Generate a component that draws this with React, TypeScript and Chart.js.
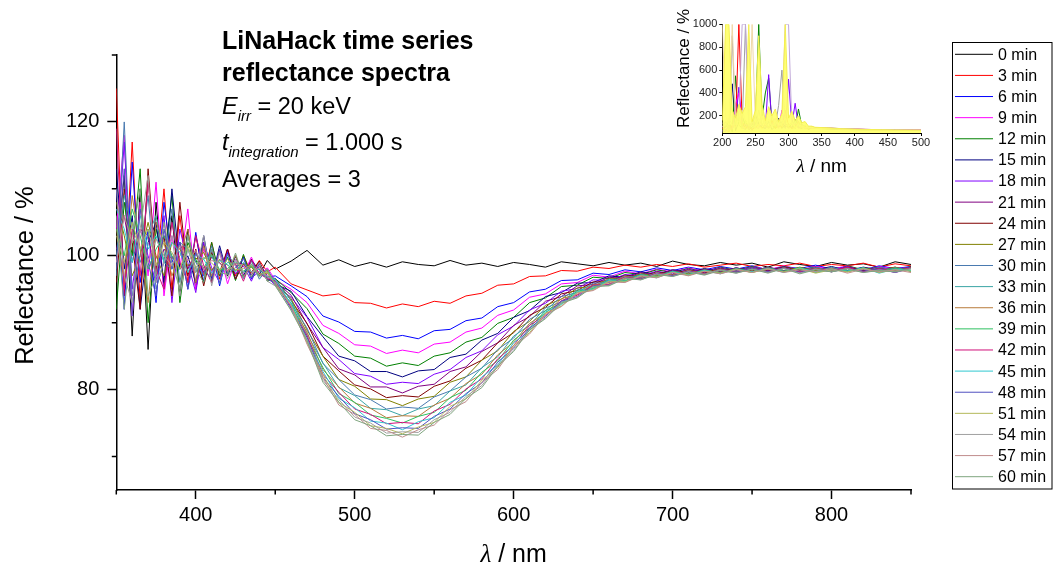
import React, { useEffect, useRef } from 'react';
import { Chart, registerables } from 'chart.js';
Chart.register(...registerables);

const FONT = '"Liberation Sans", Arial, Helvetica, sans-serif';
const SERIF = '"Liberation Serif", "Times New Roman", serif';

// ---------- main plot data ----------
const wavelengths = [350,355,360,365,370,375,380,385,390,395,400,405,410,415,420,425,430,435,440,445,450,
  460,470,480,490,500,510,520,530,540,550,560,570,580,590,600,610,620,630,640,650,
  660,670,680,690,700,710,720,730,740,750,760,770,780,790,800,810,820,830,840,850];

const timeLabels = ['0 min','3 min','6 min','9 min','12 min','15 min','18 min','21 min','24 min','27 min','30 min',
  '33 min','36 min','39 min','42 min','45 min','48 min','51 min','54 min','57 min','60 min'];

const seriesColors = ['#000000','#ff0000','#0000ff','#ff00ff','#008000','#000080','#8000ff','#800080','#800000',
  '#808000','#4a7ab0','#3aa5a5','#b87a3a','#2ec060','#d0107a','#30c8d0','#5050c0','#b4b85a','#a0a0a0','#c08c8c','#7fa57f'];

const r00 = [100,112,88,110,86,108,95,106,94,104,95,102,96,101,97,100,96.8,99.5,97.2,99.3,98.0,
  99.2,100.8,98.6,99.4,98.4,99.0,98.3,99.1,98.7,98.5,99.3,98.6,98.9,98.4,99.0,98.7,98.3,99.1,98.8,98.5,
  99.0,98.6,98.9,98.4,99.2,98.7,98.5,99.0,98.6,98.9,98.3,99.1,98.7,98.4,99.0,98.6,98.8,98.3,99.1,98.7];
const r03 = [125,94,117,93,112,97,110,95,106,96,103,97,102,96.5,101,97,100,97.5,99.3,97.6,98.3,
  95.8,94.9,94.0,94.3,93.0,92.9,92.2,92.8,92.4,93.2,92.9,94.0,94.4,95.6,95.8,96.9,97.0,97.8,97.7,98.3,
  98.1,98.6,98.3,98.7,98.4,98.8,98.3,98.6,98.9,98.4,98.7,98.5,98.9,98.4,98.7,98.5,98.9,98.3,98.8,98.5];
const r06 = [110,92,114,96,104,93,108,99,102,95,103.5,96,101,95.5,100.5,96.5,99.8,96.5,99.0,96.8,97.0,
  95.5,93.9,91.0,90.1,88.7,88.6,87.7,88.1,87.6,88.8,89.0,90.3,90.7,92.4,93.0,94.6,95.0,96.3,96.4,97.4,
  97.2,97.9,97.6,98.2,97.8,98.3,97.9,98.4,98.0,98.5,97.9,98.4,98.1,98.6,98.0,98.3,97.9,98.5,98.1,98.4];
const r09 = [104,118,91,108,97,111,94,103,98,107,95,101,97.5,100.5,95.8,99.5,97.2,99.8,97.0,98.2,96.4,
  95.0,93.0,89.6,88.4,86.7,86.5,85.4,85.9,85.5,86.8,87.1,88.6,89.2,91.1,91.9,93.8,94.3,95.8,96.0,97.1,
  96.8,97.7,97.3,98.0,97.6,98.2,97.7,98.3,97.8,98.4,97.9,98.5,97.9,98.4,98.0,98.5,97.8,98.4,98.0,98.3];
const r12 = [92,108,100,113,90,104,99,109,93,102,99.5,96,102,97,99.8,96.3,100.2,96.8,98.8,96.2,96.6,
  94.5,92.1,88.3,86.9,85.0,84.7,83.5,84.0,83.6,85.0,85.5,87.1,87.8,89.9,90.8,93.0,93.7,95.4,95.6,96.8,
  96.6,97.5,97.2,97.9,97.5,98.1,97.6,98.3,97.8,98.4,97.8,98.4,97.9,98.3,97.7,98.5,97.9,98.3,97.8,98.4];
const r15 = [113,98,106,92,102,105,96,110,98,100,96,103,96.5,101.5,97.2,99.9,97.0,99.3,97.9,96.9,95.8,
  94.7,90.9,87.9,85.0,84.3,82.7,82.7,81.9,82.8,83.0,84.8,85.3,87.4,88.4,90.8,91.8,93.9,94.5,95.9,96.0,
  97.0,96.8,97.6,97.2,97.9,97.5,98.1,97.6,98.2,97.7,98.3,97.8,98.2,97.9,98.4,97.8,98.3,97.9,98.2,97.7];
const r18 = [99,117,95,104,100,96,106,93,104,99,94.5,102,98.2,96,101,97.3,98.5,96.2,98.9,97.0,95.5,
  93.8,90.8,86.3,84.5,82.4,82.0,80.8,81.1,80.9,82.3,83.0,84.8,85.8,88.2,89.5,91.9,92.9,94.7,95.1,96.4,
  96.3,97.2,97.0,97.7,97.3,98.0,97.5,98.2,97.7,98.3,97.8,98.3,97.7,98.2,97.9,98.4,97.8,98.2,97.9,98.3];
const r21 = [101,106,99,104,103,97,101,99.5,102,98,100.5,97.5,99.8,99,97.6,98.9,98.8,97.2,98.4,96.9,96.2,
  94.1,89.8,86.3,83.1,82.2,80.4,80.4,79.5,80.5,80.8,82.7,83.4,85.7,87.0,89.6,90.9,93.2,93.9,95.5,95.7,
  96.8,96.6,97.5,97.1,97.9,97.4,98.0,97.6,98.2,97.7,98.3,97.7,98.2,97.8,98.3,97.7,98.2,97.9,98.3,97.8];
const r24 = [96,110,102,92,113,98,103,94,108,97,101,95.5,100.5,97.5,101,96.5,98.8,97.4,99.2,96.4,96.6,
  93.3,89.9,85.0,82.8,80.7,80.1,78.8,79.1,78.9,80.5,81.3,83.2,84.4,87.0,88.5,91.1,92.3,94.3,94.8,96.1,
  96.1,97.1,96.8,97.6,97.2,97.9,97.4,98.1,97.6,98.2,97.7,98.3,97.8,98.2,97.6,98.3,97.8,98.1,97.7,98.2];
const r27 = [108,103,97,100,105,100,97,102,101,98.5,99.5,100.5,97.8,99.4,98.6,97.8,98.9,98.3,97.0,97.9,95.9,
  93.6,88.9,85.0,81.5,80.5,78.6,78.5,77.6,78.6,79.0,81.1,81.9,84.4,85.8,88.7,90.2,92.6,93.5,95.2,95.4,
  96.6,96.5,97.3,97.0,97.7,97.3,97.9,97.5,98.1,97.7,98.2,97.7,98.3,97.8,98.1,97.6,98.2,97.8,98.3,97.7];
const r30 = [97,120,94,100,109,95,99,107,96,103,99,97,101.5,95.8,100.2,98.5,96.6,99.2,96.5,98.0,96.0,
  92.9,89.2,83.9,81.5,79.2,78.5,77.1,77.4,77.2,78.9,79.8,81.9,83.2,86.0,87.7,90.5,91.8,93.9,94.5,95.9,
  96.0,97.0,96.7,97.5,97.1,97.8,97.3,98.0,97.6,98.2,97.6,98.2,97.7,98.3,97.7,98.1,97.6,98.3,97.8,98.1];
const r33 = [100,109,104,99,103,106,99,98,102,101,97.5,99.6,99.9,97.6,99.0,98.7,97.5,98.6,97.9,96.8,96.6,
  93.3,88.3,84.0,80.3,79.1,77.2,77.0,76.1,77.1,77.6,79.8,80.7,83.3,84.9,88.0,89.6,92.2,93.1,94.9,95.2,
  96.5,96.3,97.2,96.9,97.7,97.2,97.9,97.4,98.1,97.6,98.2,97.7,98.1,97.6,98.3,97.7,98.0,97.6,98.2,97.8];
const r36 = [104,96,109,101,93,105,102,97,100,104,96,101.5,97,99.5,97.6,100,96.9,98.4,97.2,97.4,95.7,
  92.5,88.6,83.0,80.4,78.0,77.2,75.8,76.1,76.0,77.7,78.7,80.9,82.3,85.2,87.1,89.9,91.4,93.6,94.2,95.7,
  95.8,96.9,96.6,97.4,97.1,97.8,97.3,98.0,97.5,98.1,97.6,98.2,97.6,98.1,97.8,98.2,97.6,98.0,97.7,98.2];
const r39 = [104,100,107,103,98,101,103,100,98,101,99.4,98.2,100.2,97.9,98.1,99.1,97.7,98.4,97.1,97.6,95.8,
  92.9,87.8,83.3,79.4,78.1,76.2,75.7,75.0,76.0,76.6,78.8,79.9,82.6,84.3,87.4,89.2,91.8,92.9,94.7,95.1,
  96.3,96.2,97.1,96.8,97.6,97.1,97.8,97.4,98.0,97.5,98.1,97.6,98.2,97.5,98.0,97.7,98.2,97.5,98.1,97.7];
const r42 = [119,95,104,97,111,98,95,105,99,96,103,98.5,96,100.8,97.7,98.8,96.2,99.4,97.3,96.6,96.3,
  92.3,88.1,82.3,79.6,77.1,76.3,74.9,75.1,74.9,76.8,77.8,80.1,81.6,84.6,86.6,89.6,91.1,93.3,94.1,95.6,
  95.7,96.8,96.5,97.4,97.0,97.7,97.2,97.9,97.5,98.1,97.5,98.2,97.6,98.0,97.7,98.3,97.6,98.1,97.5,98.2];
const r45 = [107,104,99,106,101,103,99,102,100.5,97.5,100.2,99.5,97.4,99.3,98.7,97.6,99.0,97.6,98.1,96.9,96.4,
  92.8,87.4,82.7,78.7,77.3,75.3,75.0,74.0,75.2,75.8,78.1,79.2,81.9,83.7,87.0,88.8,91.6,92.7,94.6,95.0,
  96.3,96.1,97.1,96.7,97.6,97.1,97.8,97.3,98.0,97.6,98.1,97.5,98.2,97.6,97.9,97.7,98.2,97.4,98.0,97.8];
const r48 = [98,113,91,107,99,94,104,98,102,95,100.5,98,96.5,101,97.3,98.2,99.6,96.7,97.6,96.5,95.9,
  92.1,87.8,81.8,79.0,76.4,75.5,74.1,74.3,74.2,76.0,77.1,79.4,81.0,84.1,86.2,89.2,90.9,93.2,93.9,95.5,
  95.6,96.7,96.5,97.3,97.0,97.7,97.2,97.9,97.5,98.1,97.6,98.2,97.5,98.0,97.6,98.1,97.7,98.0,97.5,98.1];
const r51 = [103,99,105,101,104,98.5,102,100.5,98,101.5,98.2,99.8,98.9,97.8,99.5,97.9,98.1,98.6,97.2,97.6,95.7,
  92.6,87.0,82.2,78.1,76.6,74.6,74.2,73.4,74.4,75.1,77.5,78.6,81.4,83.3,86.6,88.5,91.4,92.5,94.5,94.9,
  96.2,96.1,97.0,96.8,97.5,97.1,97.7,97.4,98.0,97.5,98.0,97.6,98.1,97.4,97.9,97.6,98.1,97.5,97.9,97.7];
const r54 = [110,97,93,104,112,96,99,103,94,101,97.5,103,95.5,100.5,96.6,99.5,97.6,96.9,99.0,96.2,95.5,
  91.9,87.5,81.4,78.5,75.9,75.0,73.5,73.7,73.6,75.5,76.6,79.0,80.6,83.7,85.9,89.0,90.7,93.0,93.8,95.4,
  95.6,96.7,96.4,97.3,96.9,97.6,97.2,97.9,97.4,98.0,97.5,98.1,97.4,98.0,97.6,98.1,97.5,97.9,97.6,98.0];
const r57 = [99,106,102,104,99,102.5,100,98.5,101.5,99.2,100.8,97.9,99.3,98.9,97.7,98.8,98.6,97.5,98.2,96.9,96.0,
  92.5,86.8,81.8,77.7,76.3,74.2,73.9,72.9,74.0,74.7,77.0,78.2,81.1,83.0,86.4,88.3,91.2,92.4,94.4,94.8,
  96.1,96.0,97.0,96.7,97.5,97.0,97.7,97.3,97.9,97.5,98.1,97.5,97.9,97.6,98.1,97.4,98.0,97.6,97.9,97.5];
const r60 = [106,92,103,110,94,97,105,99,95,103,98,96,101,97.5,97.2,100.4,96.8,98.8,96.8,98.0,95.6,
  91.8,87.3,81.1,78.1,75.5,74.6,73.1,73.3,73.2,75.1,76.3,78.7,80.3,83.5,85.7,88.9,90.6,92.9,93.7,95.4,
  95.5,96.6,96.4,97.2,96.9,97.6,97.1,97.8,97.4,98.0,97.4,98.1,97.3,97.9,97.6,98.0,97.5,97.8,97.6,98.1];

const seriesValues = [r00,r03,r06,r09,r12,r15,r18,r21,r24,r27,r30,r33,r36,r39,r42,r45,r48,r51,r54,r57,r60];

const xTickValues = [400, 500, 600, 700, 800];
const xMinorTicks = [350, 450, 550, 650, 750, 850];
const yTickValues = [80, 100, 120];
const yMinorTicks = [70, 90, 110, 130];

// ---------- inset data ----------
const insetWavelengths = [200,205,210,215,220,225,230,235,240,245,250,255,260,265,270,275,280,285,290,295,
  300,305,310,315,320,325,330,335,340,360,380,400,420,440,460,480,500];
const insetColors = ['#000080','#008000','#8000ff','#ff0000','#ff00ff','#a0a0a0','#f0d8a8','#c0a8d8','#f5f050'];
const inNavy = [60,120,90,480,70,150,200,110,90,120,210,130,100,90,150,80,110,180,90,120,130,90,170,100,90,110,80,95,90,85,80,78,76,75,74,72,72];
const inGreen = [80,100,150,60,550,120,90,160,80,100,130,1000,180,400,530,120,90,150,140,110,100,130,90,260,110,100,90,100,92,88,83,80,78,76,74,73,72];
const inPurple = [70,60,130,90,120,450,100,80,140,70,160,110,120,90,560,110,140,100,150,90,520,120,310,100,130,95,100,90,95,90,85,82,80,77,76,74,73];
const inRed = [90,80,60,120,100,1000,150,90,110,80,100,120,90,130,100,160,90,110,100,250,110,90,100,150,95,110,85,100,95,92,86,83,80,78,76,75,74];
const inMagenta = [110,70,100,80,300,400,90,130,80,150,100,90,200,110,90,120,180,90,250,120,90,110,130,90,110,85,100,90,98,92,88,84,81,79,77,76,75];
const inGray = [100,150,70,900,120,200,90,1000,110,150,90,250,120,160,90,200,110,290,600,130,110,150,90,140,100,120,95,105,96,94,88,84,81,79,77,75,74];
const inTan = [1000,200,120,1000,160,110,250,150,120,1000,140,110,200,120,170,110,150,120,130,180,110,140,100,120,110,100,95,100,94,92,87,83,80,78,77,75,74];
const inLavender = [140,110,180,120,100,160,1000,1000,110,120,100,180,120,100,140,110,120,160,110,1000,1000,120,150,110,100,95,105,95,95,92,88,84,81,79,77,75,74];
const inYellow = [160,1000,1000,250,180,300,220,280,1000,150,250,900,300,160,280,200,260,150,220,1000,180,240,160,200,140,150,110,110,100,95,88,84,81,79,77,76,75];
const insetValues = [inNavy,inGreen,inPurple,inRed,inMagenta,inGray,inTan,inLavender,inYellow];
const insetYTicks = [200, 400, 600, 800, 1000];

function drawRuns(ctx: CanvasRenderingContext2D, x: number, y: number, runs: {t: string; f: string; dy?: number}[]) {
  let cx = x;
  for (const r of runs) {
    ctx.font = r.f;
    ctx.fillText(r.t, cx, y + (r.dy || 0));
    cx += ctx.measureText(r.t).width;
  }
}

function drawLambdaTitle(ctx: CanvasRenderingContext2D, cx: number, baseline: number, size: number) {
  ctx.font = `italic ${size}px ${SERIF}`;
  const w1 = ctx.measureText('λ').width;
  ctx.font = `${size}px ${FONT}`;
  const w2 = ctx.measureText(' / nm').width;
  const x0 = cx - (w1 + w2) / 2;
  ctx.textAlign = 'left';
  ctx.textBaseline = 'alphabetic';
  ctx.font = `italic ${size}px ${SERIF}`;
  ctx.fillText('λ', x0, baseline);
  ctx.font = `${size}px ${FONT}`;
  ctx.fillText(' / nm', x0 + w1, baseline);
}

const mainDecor = {
  id: 'mainDecor',
  afterDraw(chart: any) {
    const ctx: CanvasRenderingContext2D = chart.ctx;
    const xs = chart.scales.x;
    const ys = chart.scales.y;
    const area = chart.chartArea;
    ctx.save();
    ctx.strokeStyle = '#000';
    ctx.lineWidth = 1.5;
    ctx.beginPath();
    for (const v of xMinorTicks) {
      const px = xs.getPixelForValue(v);
      ctx.moveTo(px, area.bottom);
      ctx.lineTo(px, area.bottom + 4.5);
    }
    for (const v of yMinorTicks) {
      const py = ys.getPixelForValue(v);
      ctx.moveTo(area.left, py);
      ctx.lineTo(area.left - 4.5, py);
    }
    ctx.stroke();

    ctx.fillStyle = '#000';
    drawLambdaTitle(ctx, (area.left + area.right) / 2, 562, 25);
    ctx.save();
    ctx.translate(33, (area.top + area.bottom) / 2 + 3);
    ctx.rotate(-Math.PI / 2);
    ctx.font = `25.5px ${FONT}`;
    ctx.textAlign = 'center';
    ctx.textBaseline = 'alphabetic';
    ctx.fillText('Reflectance / %', 0, 0);
    ctx.restore();

    ctx.textAlign = 'left';
    ctx.textBaseline = 'alphabetic';
    const reg = `23.5px ${FONT}`;
    const ital = `italic 23.5px ${FONT}`;
    const sub = `italic 15px ${FONT}`;
    drawRuns(ctx, 222, 49, [{t: 'LiNaHack time series', f: `bold 25px ${FONT}`}]);
    drawRuns(ctx, 222, 81, [{t: 'reflectance spectra', f: `bold 25px ${FONT}`}]);
    drawRuns(ctx, 222, 113.5, [{t: 'E', f: ital}, {t: 'irr', f: sub, dy: 7}, {t: ' = 20 keV', f: reg}]);
    drawRuns(ctx, 222, 150, [{t: 't', f: ital}, {t: 'integration', f: sub, dy: 7}, {t: ' = 1.000 s', f: reg}]);
    drawRuns(ctx, 222, 186.5, [{t: 'Averages = 3', f: reg}]);

    ctx.strokeStyle = '#000';
    ctx.lineWidth = 1;
    ctx.strokeRect(952.5, 42.5, 99.5, 446.5);
    ctx.font = `16px ${FONT}`;
    ctx.textBaseline = 'middle';
    chart.data.datasets.forEach((ds: any, i: number) => {
      const y = 54.3 + i * 21.12;
      ctx.strokeStyle = ds.borderColor;
      ctx.lineWidth = 1;
      ctx.beginPath();
      ctx.moveTo(955, y);
      ctx.lineTo(993, y);
      ctx.stroke();
      ctx.fillStyle = '#000';
      ctx.fillText(ds.label, 998, y + 1);
    });
    ctx.restore();
  },
};

const insetDecor = {
  id: 'insetDecor',
  afterDraw(chart: any) {
    const ctx: CanvasRenderingContext2D = chart.ctx;
    const area = chart.chartArea;
    ctx.save();
    ctx.fillStyle = '#000';
    drawLambdaTitle(ctx, (area.left + area.right) / 2, 172, 19);
    ctx.translate(49, 68.5);
    ctx.rotate(-Math.PI / 2);
    ctx.font = `17px ${FONT}`;
    ctx.textAlign = 'center';
    ctx.textBaseline = 'alphabetic';
    ctx.fillText('Reflectance / %', 0, 0);
    ctx.restore();
  },
};

export default function App() {
  const mainRef = useRef<HTMLCanvasElement | null>(null);
  const insetRef = useRef<HTMLCanvasElement | null>(null);

  useEffect(() => {
    if (!mainRef.current || !insetRef.current) return;
    const n = seriesValues.length;
    const main = new Chart(mainRef.current, {
      type: 'line',
      data: {
        datasets: seriesValues.map((vals, i) => ({
          label: timeLabels[i],
          data: vals.map((v, j) => ({ x: wavelengths[j], y: v })),
          borderColor: seriesColors[i],
          backgroundColor: seriesColors[i],
          borderWidth: 1,
          pointRadius: 0,
          fill: false,
          tension: 0,
          order: n - i,
        })),
      },
      options: {
        animation: false,
        responsive: false,
        devicePixelRatio: 1,
        events: [],
        layout: { padding: { left: 0, right: 142, top: 55, bottom: 0 } },
        plugins: { legend: { display: false }, tooltip: { enabled: false } },
        scales: {
          x: {
            type: 'linear',
            min: 350,
            max: 850,
            afterBuildTicks: (s: any) => { s.ticks = xTickValues.map((v) => ({ value: v })); },
            afterFit: (s: any) => { s.height = 81; },
            grid: { display: true, drawOnChartArea: false, drawTicks: true, tickLength: 9, tickWidth: 1.5, tickColor: '#000' },
            border: { display: true, color: '#000', width: 1.5 },
            ticks: { color: '#000', font: { family: FONT, size: 20 }, padding: 4, maxRotation: 0, autoSkip: false },
          },
          y: {
            type: 'linear',
            min: 65,
            max: 130,
            afterBuildTicks: (s: any) => { s.ticks = yTickValues.map((v) => ({ value: v })); },
            afterFit: (s: any) => { s.width = 116.3; },
            grid: { display: true, drawOnChartArea: false, drawTicks: true, tickLength: 9, tickWidth: 1.5, tickColor: '#000' },
            border: { display: true, color: '#000', width: 1.5 },
            ticks: { color: '#000', font: { family: FONT, size: 20 }, padding: 8, autoSkip: false },
          },
        },
      },
      plugins: [mainDecor],
    } as any);

    const m = insetValues.length;
    const inset = new Chart(insetRef.current, {
      type: 'line',
      data: {
        datasets: insetValues.map((vals, i) => ({
          data: vals.map((v, j) => ({ x: insetWavelengths[j], y: v })),
          borderColor: insetColors[i],
          backgroundColor: i === m - 1 ? 'rgba(255,255,110,0.95)' : insetColors[i],
          borderWidth: 1,
          pointRadius: 0,
          fill: i === m - 1 ? { target: 'start' } : false,
          tension: 0,
          order: m - i,
        })),
      },
      options: {
        animation: false,
        responsive: false,
        devicePixelRatio: 1,
        events: [],
        layout: { padding: { left: 0, right: 19, top: 24.3, bottom: 0 } },
        plugins: { legend: { display: false }, tooltip: { enabled: false }, filler: { propagate: false, drawTime: 'beforeDatasetDraw' } },
        scales: {
          x: {
            type: 'linear',
            min: 200,
            max: 500,
            ticks: { stepSize: 50, color: '#222', font: { family: FONT, size: 11 }, padding: 0, maxRotation: 0, autoSkip: false },
            afterFit: (s: any) => { s.height = 47; },
            grid: { display: true, drawOnChartArea: false, drawTicks: true, tickLength: 3, tickWidth: 1, tickColor: '#000' },
            border: { display: true, color: '#000', width: 1 },
          },
          y: {
            type: 'linear',
            min: 50,
            max: 1000,
            afterBuildTicks: (s: any) => { s.ticks = insetYTicks.map((v) => ({ value: v })); },
            afterFit: (s: any) => { s.width = 82.3; },
            ticks: { color: '#222', font: { family: FONT, size: 11 }, padding: 2, autoSkip: false, callback: (v: any) => String(v) },
            grid: { display: true, drawOnChartArea: false, drawTicks: true, tickLength: 3, tickWidth: 1, tickColor: '#000' },
            border: { display: true, color: '#000', width: 1 },
          },
        },
      },
      plugins: [insetDecor],
    } as any);

    return () => {
      main.destroy();
      inset.destroy();
    };
  }, []);

  return (
    <div style={{ position: 'absolute', left: 0, top: 0, width: 1053, height: 571, background: '#fff' }}>
      <canvas ref={mainRef} width={1053} height={571} style={{ position: 'absolute', left: 0, top: 0, width: 1053, height: 571 }} />
      <canvas ref={insetRef} width={300} height={180} style={{ position: 'absolute', left: 640, top: 0, width: 300, height: 180 }} />
    </div>
  );
}
